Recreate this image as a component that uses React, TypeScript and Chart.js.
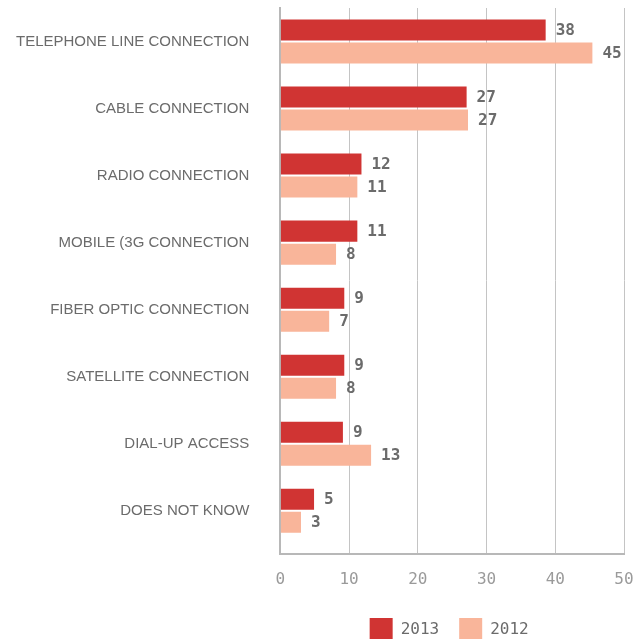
import React, { useEffect, useRef } from "react";
import { Chart, registerables } from "chart.js";

Chart.register(...registerables);

const categories = [
  "TELEPHONE LINE CONNECTION",
  "CABLE CONNECTION",
  "RADIO CONNECTION",
  "MOBILE (3G CONNECTION",
  "FIBER OPTIC CONNECTION",
  "SATELLITE CONNECTION",
  "DIAL-UP ACCESS",
  "DOES NOT KNOW",
];
const values2013 = [38.6, 27.1, 11.8, 11.2, 9.3, 9.3, 9.1, 4.9];
const values2012 = [45.4, 27.3, 11.2, 8.1, 7.1, 8.1, 13.2, 3.0];
const labels2013 = ["38", "27", "12", "11", "9", "9", "9", "5"];
const labels2012 = ["45", "27", "11", "8", "7", "8", "13", "3"];
const seriesNames = ["2013", "2012"];
const seriesColors = ["#d03433", "#f9b59a"];
const xTicks = [0, 10, 20, 30, 40, 50];

const MONO = "'DejaVu Sans Mono', monospace";
const SANS = "'Liberation Sans', Arial, sans-serif";

const bandPlugin = {
  id: "bandShrink",
  afterLayout(chart: any) {
    const s = chart.scales.y;
    if (!s) return;
    s._endPixel = s._endPixel - 9.5;
    s._length = s._endPixel - s._startPixel;
  },
};

const valueLabelPlugin = {
  id: "valueLabels",
  afterDatasetsDraw(chart: any) {
    const ctx = chart.ctx;
    const allLabels = [labels2013, labels2012];
    ctx.save();
    ctx.font = "bold 16px " + MONO;
    ctx.fillStyle = "#6b6b6b";
    ctx.textAlign = "left";
    ctx.textBaseline = "middle";
    chart.data.datasets.forEach((_ds: any, di: number) => {
      const meta = chart.getDatasetMeta(di);
      meta.data.forEach((el: any, i: number) => {
        ctx.fillText(allLabels[di][i], el.x + 10, el.y + 1);
      });
    });
    ctx.restore();
  },
};

const legendPlugin = {
  id: "customLegend",
  afterDraw(chart: any) {
    const ctx = chart.ctx;
    const area = chart.chartArea;
    ctx.save();
    ctx.font = "16px " + MONO;
    const boxW = 23;
    const boxH = 21;
    const gapText = 8;
    const gapItem = 20;
    const widths = seriesNames.map((n) => boxW + gapText + ctx.measureText(n).width);
    const total = widths.reduce((a, b) => a + b, 0) + gapItem * (widths.length - 1);
    let x = (area.left + area.right) / 2 - total / 2 - 3;
    const yTop = chart.height - boxH;
    seriesNames.forEach((n, i) => {
      ctx.fillStyle = seriesColors[i];
      ctx.fillRect(x, yTop, boxW, boxH);
      ctx.fillStyle = "#6b6b6b";
      ctx.textAlign = "left";
      ctx.textBaseline = "middle";
      ctx.fillText(n, x + boxW + gapText, yTop + boxH / 2 + 1);
      x += widths[i] + gapItem;
    });
    ctx.restore();
  },
};

export default function App() {
  const ref = useRef<HTMLCanvasElement>(null);
  useEffect(() => {
    if (!ref.current) return;
    const chart = new Chart(ref.current, {
      type: "bar",
      data: {
        labels: categories,
        datasets: [
          {
            label: seriesNames[0],
            data: values2013,
            backgroundColor: seriesColors[0],
            categoryPercentage: 0.687,
            barPercentage: 0.913,
          },
          {
            label: seriesNames[1],
            data: values2012,
            backgroundColor: seriesColors[1],
            categoryPercentage: 0.687,
            barPercentage: 0.913,
          },
        ],
      },
      options: {
        indexAxis: "y",
        animation: false,
        responsive: true,
        maintainAspectRatio: false,
        layout: { padding: { top: 8, right: 11, left: 16, bottom: 34 } },
        scales: {
          x: {
            min: 0,
            max: 50,
            afterBuildTicks: (axis: any) => {
              axis.ticks = xTicks.map((v) => ({ value: v }));
            },
            afterFit: (scale: any) => {
              scale.paddingLeft = 0;
              scale.paddingRight = 0;
            },
            grid: { color: "#c4c4c4", drawTicks: false, lineWidth: 1 },
            border: { color: "#b8b8b8", width: 2 },
            ticks: {
              color: "#9a9a9a",
              font: { family: MONO, size: 16 },
              padding: 16,
            },
          },
          y: {
            afterFit: (scale: any) => {
              scale.paddingTop = 0;
              scale.paddingBottom = 0;
              scale.width -= 31;
            },
            grid: { display: false, drawTicks: false },
            border: { color: "#b8b8b8", width: 2 },
            ticks: {
              color: "#6b6b6b",
              font: { family: SANS, size: 15 },
              padding: 31,
            },
          },
        },
        plugins: {
          legend: { display: false },
          tooltip: { enabled: false },
        },
      },
      plugins: [bandPlugin, valueLabelPlugin, legendPlugin],
    });
    return () => chart.destroy();
  }, []);
  return (
    <div style={{ position: "fixed", left: 0, top: 0, width: 635, height: 639, background: "#fff" }}>
      <canvas ref={ref} />
    </div>
  );
}
